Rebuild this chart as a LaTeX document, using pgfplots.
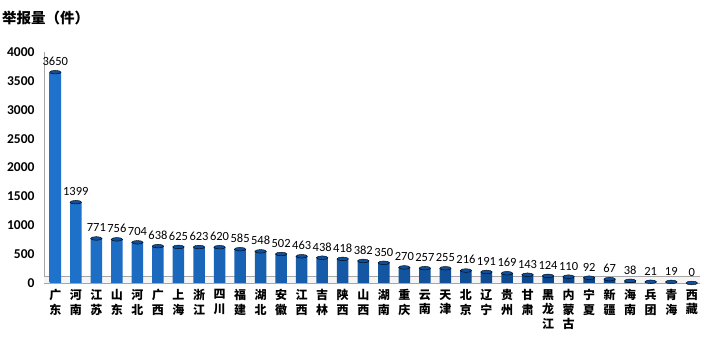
\documentclass[border=0pt]{standalone}
\usepackage{fontspec}
\usepackage{pgfplots}
\pgfplotsset{compat=1.18}
\setmainfont{Carlito}
\newfontfamily\cjk{Noto Sans CJK SC}
\definecolor{barL}{HTML}{1F73CC}
\definecolor{barM}{HTML}{1463B8}
\definecolor{barR}{HTML}{083A78}
\definecolor{barTop}{HTML}{0D4F9C}
\begin{document}
\begin{tikzpicture}
\begin{axis}[
  at={(0,0)}, anchor=south west,
  scale only axis, width=656pt, height=231pt,
  xmin=-0.55, xmax=31.4, ymin=0, ymax=4000,
  axis x line*=bottom, axis y line*=left,
  axis line style={gray!70, line width=0.8pt},
  ytick={0,500,...,4000},
  xtick={0,...,31},
  major tick length=0pt,
  /pgf/number format/1000 sep={},
  /pgf/number format/assume math mode=true,
  yticklabel style={font=\fontsize{13.5}{15}\selectfont\bfseries, xshift=-6pt},
  xticklabel style={font=\cjk\bfseries\fontsize{12}{14.5}\selectfont, align=center, anchor=north, yshift=-3pt},
  xticklabels={{广\\东},{河\\南},{江\\苏},{山\\东},{河\\北},{广\\西},{上\\海},{浙\\江},{四\\川},{福\\建},{湖\\北},{安\\徽},{江\\西},{吉\\林},{陕\\西},{山\\西},{湖\\南},{重\\庆},{云\\南},{天\\津},{北\\京},{辽\\宁},{贵\\州},{甘\\肃},{黑\\龙\\江},{内\\蒙\\古},{宁\\夏},{新\\疆},{海\\南},{兵\\团},{青\\海},{西\\藏}},
  clip=false,
]
\fill[gray!8] (axis cs:-0.55,0) rectangle (axis cs:31.4,120);
\draw[gray!70, line width=1pt] (axis cs:-0.55,120) -- (axis cs:31.4,120);
\addplot[ybar, bar width=11.5pt, bar shift=0pt, draw=none, left color=barL, middle color=barM, right color=barR] table {
x y
0 3650
1 1399
2 771
3 756
4 704
5 638
6 625
7 623
8 620
9 585
10 548
11 502
12 463
13 438
14 418
15 382
16 350
17 270
18 257
19 255
20 216
21 191
22 169
23 143
24 124
25 110
26 92
27 67
28 38
29 21
30 19
31 0
};
\addplot[only marks, mark=*, mark size=5.75pt, mark options={yscale=0.32, fill=barTop, draw=none},
  nodes near coords, every node near coord/.append style={font=\fontsize{12.5}{14}\selectfont, anchor=south, yshift=3pt, black}] table {
x y
0 3650
1 1399
2 771
3 756
4 704
5 638
6 625
7 623
8 620
9 585
10 548
11 502
12 463
13 438
14 418
15 382
16 350
17 270
18 257
19 255
20 216
21 191
22 169
23 143
24 124
25 110
26 92
27 67
28 38
29 21
30 19
31 0
};
\end{axis}
\node[anchor=west, font=\cjk\bfseries\fontsize{14.5}{17}\selectfont, inner sep=0pt] at (-42pt,265pt) {举报量（件）};
\pgfresetboundingbox
\useasboundingbox (-44pt,-72pt) rectangle (664pt,283pt);
\end{tikzpicture}
\end{document}
